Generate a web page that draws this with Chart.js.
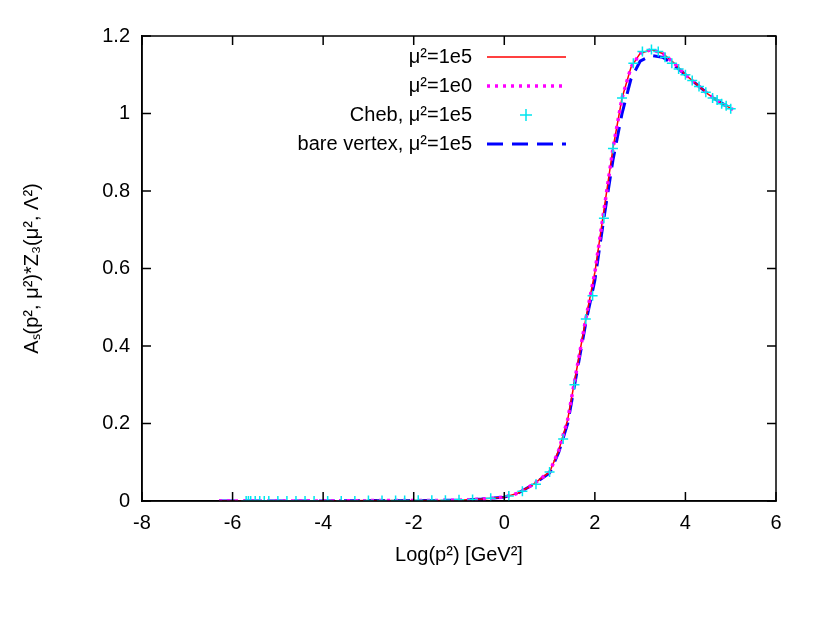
<!DOCTYPE html>
<html lang="en">
<head>
<meta charset="UTF-8">
<title>A_s chart</title>
<script src="https://cdn.jsdelivr.net/npm/chart.js"></script>
<style>body{margin:0;background:#fff}</style>
</head>
<body>
<canvas id="c" width="830" height="623"></canvas>
<script>
// curve samples
const xs = [-6.3, -5, -4, -3, -2, -1, -0.5, 0, 0.3, 0.6, 1.0, 1.2, 1.4, 1.6, 1.8, 2.0, 2.2, 2.4, 2.6, 2.8, 3.0, 3.25, 3.5, 3.75, 4.0, 4.25, 4.5, 4.75, 5.05];
const fine = [0, 0, 0, 0.001, 0.001, 0.002, 0.005, 0.01, 0.02, 0.04, 0.075, 0.13, 0.21, 0.34, 0.47, 0.59, 0.75, 0.91, 1.04, 1.12, 1.155, 1.165, 1.155, 1.13, 1.1, 1.075, 1.05, 1.03, 1.01];
const coarse = [0, 0, 0, 0.001, 0.001, 0.002, 0.005, 0.01, 0.02, 0.04, 0.075, 0.13, 0.21, 0.34, 0.47, 0.59, 0.75, 0.91, 1.04, 1.12, 1.155, 1.165, 1.155, 1.13, 1.1, 1.075, 1.05, 1.03, 1.01];
const bare = [0, 0, 0, 0.001, 0.001, 0.002, 0.005, 0.01, 0.02, 0.04, 0.072, 0.125, 0.2, 0.33, 0.46, 0.57, 0.73, 0.88, 1.0, 1.09, 1.135, 1.15, 1.145, 1.125, 1.1, 1.075, 1.05, 1.03, 1.01];
const chebX = [-5.7, -5.65, -5.6, -5.5, -5.4, -5.3, -5.2, -5.0, -4.8, -4.6, -4.4, -4.2, -3.9, -3.6, -3.3, -3.0, -2.7, -2.4, -2.2, -1.9, -1.6, -1.3, -1.0, -0.7, -0.3, 0.1, 0.4, 0.7, 1.0, 1.3, 1.55, 1.8, 1.95, 2.2, 2.4, 2.6, 2.85, 3.05, 3.25, 3.4, 3.55, 3.7, 3.85, 4.0, 4.15, 4.3, 4.45, 4.6, 4.7, 4.8, 4.9, 5.0];
const chebY = [0, 0, 0, 0, 0, 0, 0, 0, 0, 0, 0, 0, 0, 0, 0, 0.001, 0.001, 0.001, 0.001, 0.002, 0.002, 0.002, 0.003, 0.004, 0.007, 0.013, 0.025, 0.043, 0.075, 0.16, 0.3, 0.47, 0.53, 0.73, 0.91, 1.04, 1.13, 1.16, 1.165, 1.16, 1.145, 1.13, 1.115, 1.1, 1.085, 1.07, 1.055, 1.04, 1.035, 1.025, 1.02, 1.012];
const xTicks = [-8, -6, -4, -2, 0, 2, 4, 6];
const yTicks = [0, 0.2, 0.4, 0.6, 0.8, 1, 1.2];
const labels = ['\u03bc\u00b2=1e5', '\u03bc\u00b2=1e0', 'Cheb, \u03bc\u00b2=1e5', 'bare vertex, \u03bc\u00b2=1e5'];

const pts = (x, y) => x.map((v, i) => ({x: v, y: y[i]}));
const font = {family: 'Liberation Sans', size: 20};

const styles = [
  {borderColor: '#ff0000', borderWidth: 1.5, borderDash: []},
  {borderColor: '#ff00ff', borderWidth: 3.5, borderDash: [3, 5]},
  null,
  {borderColor: '#0000ff', borderWidth: 3, borderDash: [16, 9]}
];

const legendPlugin = {
  id: 'gpLegend',
  afterDraw(chart) {
    const ctx = chart.ctx;
    ctx.save();
    ctx.font = '20px Liberation Sans';
    ctx.fillStyle = '#000';
    ctx.textAlign = 'right';
    ctx.textBaseline = 'middle';
    labels.forEach((t, i) => {
      const y = 57 + i * 29;
      ctx.fillText(t, 472, y);
      const s = styles[i];
      if (s) {
        ctx.strokeStyle = s.borderColor;
        ctx.lineWidth = s.borderWidth;
        ctx.setLineDash(s.borderDash);
        ctx.beginPath(); ctx.moveTo(487, y); ctx.lineTo(566, y); ctx.stroke();
      } else {
        ctx.strokeStyle = '#00e5ee';
        ctx.lineWidth = 1.5;
        ctx.setLineDash([]);
        ctx.beginPath();
        ctx.moveTo(520, y); ctx.lineTo(532, y);
        ctx.moveTo(526, y - 6); ctx.lineTo(526, y + 6);
        ctx.stroke();
      }
    });
    ctx.restore();
  }
};

new Chart(document.getElementById('c'), {
  type: 'scatter',
  data: {
    datasets: [
      {data: pts(xs, fine), showLine: true, pointRadius: 0, ...styles[0], order: 3},
      {data: pts(xs, coarse), showLine: true, pointRadius: 0, ...styles[1], order: 2},
      {data: pts(chebX, chebY), showLine: false, pointStyle: 'cross', pointRadius: 5, borderColor: '#00e5ee', borderWidth: 1.5, order: 1},
      {data: pts(xs, bare), showLine: true, pointRadius: 0, ...styles[3], order: 4}
    ]
  },
  options: {
    responsive: false,
    animation: false,
    layout: {padding: {top: 36, right: 54, left: 16, bottom: 52}},
    plugins: {legend: {display: false}, tooltip: {enabled: false}},
    scales: {
      x: {
        type: 'linear', min: -8, max: 6,
        afterBuildTicks: a => { a.ticks = xTicks.map(v => ({value: v})); },
        afterFit: a => { a.height = 70; },
        grid: {display: false, drawTicks: false},
        border: {color: '#000', width: 1.5},
        ticks: {color: '#000', font, padding: 10},
        title: {display: true, text: 'Log(p\u00b2) [GeV\u00b2]', color: '#000', font}
      },
      y: {
        min: 0, max: 1.2,
        afterBuildTicks: a => { a.ticks = yTicks.map(v => ({value: v})); },
        afterFit: a => { a.width = 126; },
        grid: {display: false, drawTicks: false},
        border: {color: '#000', width: 1.5},
        ticks: {color: '#000', font, padding: 12, callback: v => String(+v.toFixed(1))},
        title: {display: true, text: 'A\u209b(p\u00b2, \u03bc\u00b2)*Z\u2083(\u03bc\u00b2, \u039b\u00b2)', color: '#000', font}
      }
    }
  },
  plugins: [legendPlugin, {
    id: 'frame',
    afterDraw(chart) {
      const {ctx, chartArea: a, scales} = chart;
      ctx.save();
      ctx.strokeStyle = '#000';
      ctx.lineWidth = 1.5;
      ctx.strokeRect(a.left, a.top, a.right - a.left, a.bottom - a.top);
      ctx.beginPath();
      xTicks.forEach(v => {
        const px = scales.x.getPixelForValue(v);
        ctx.moveTo(px, a.bottom); ctx.lineTo(px, a.bottom - 9);
        ctx.moveTo(px, a.top); ctx.lineTo(px, a.top + 9);
      });
      yTicks.forEach(v => {
        const py = scales.y.getPixelForValue(v);
        ctx.moveTo(a.left, py); ctx.lineTo(a.left + 9, py);
        ctx.moveTo(a.right, py); ctx.lineTo(a.right - 9, py);
      });
      ctx.stroke();
      ctx.restore();
    }
  }]
});
</script>
</body>
</html>
